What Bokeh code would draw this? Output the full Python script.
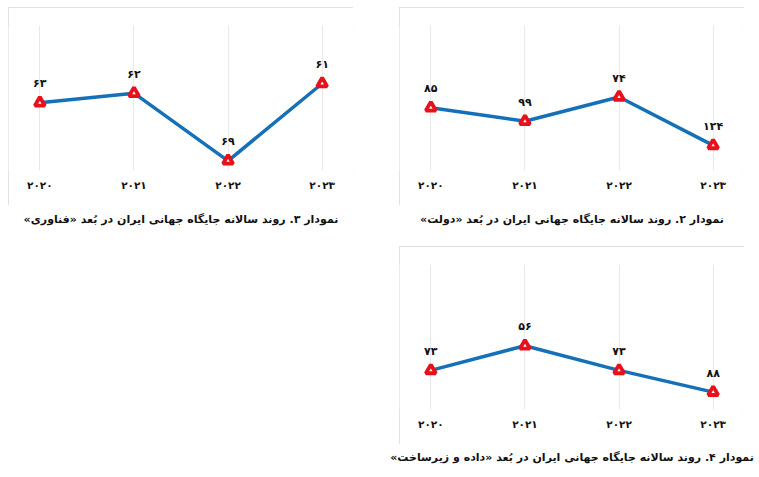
from bokeh.core.properties import value
from bokeh.embed import file_html
from bokeh.layouts import column, row
from bokeh.models import ColumnDataSource, FixedTicker, Range1d, Spacer
from bokeh.plotting import figure
from bokeh.resources import INLINE

years = [2020, 2021, 2022, 2023]
year_labels = ["۲۰۲۰", "۲۰۲۱", "۲۰۲۲", "۲۰۲۳"]

rank_government = [85, 99, 74, 124]
rank_technology = [63, 62, 69, 61]
rank_data_infra = [73, 56, 73, 88]

caption_government = "نمودار ۲. روند سالانه جایگاه جهانی ایران در بُعد «دولت»"
caption_technology = "نمودار ۳. روند سالانه جایگاه جهانی ایران در بُعد «فناوری»"
caption_data_infra = "نمودار ۴. روند سالانه جایگاه جهانی ایران در بُعد «داده و زیرساخت»"

FONT = "DejaVu Sans"
RLM = "\u200f"
PERSIAN_DIGITS = str.maketrans("0123456789", "۰۱۲۳۴۵۶۷۸۹")


def to_persian(number):
    return str(number).translate(PERSIAN_DIGITS)


def rank_chart(ranks, axis_bounds):
    pad = 0.333
    p = figure(width=345, height=198,
               x_range=Range1d(years[0] - pad, years[-1] + pad),
               y_range=Range1d(axis_bounds[1], axis_bounds[0]),
               output_backend="svg", toolbar_location=None,
               y_axis_location=None,
               min_border_left=0, min_border_right=0,
               min_border_top=18, min_border_bottom=35,
               styles={"outline": "1px solid #d9d9d9",
                       "outline-offset": "-1px"})
    p.outline_line_color = None
    p.background_fill_color = "white"
    p.border_fill_color = "white"

    p.xaxis.ticker = FixedTicker(ticks=years)
    p.xaxis.major_label_overrides = dict(zip(years, year_labels))
    p.xaxis.axis_line_color = None
    p.xaxis.major_tick_line_color = None
    p.xaxis.minor_tick_line_color = None
    p.xaxis.major_tick_out = 0
    p.xaxis.minor_tick_out = 0
    p.xaxis.major_label_standoff = 8
    p.xaxis.major_label_text_font = FONT
    p.xaxis.major_label_text_font_style = "bold"
    p.xaxis.major_label_text_font_size = "10.5px"
    p.xaxis.major_label_text_color = "#111111"

    p.xgrid.ticker = FixedTicker(ticks=years)
    p.xgrid.grid_line_color = "#e9e9e9"
    p.ygrid.grid_line_color = None

    source = ColumnDataSource(dict(
        year=years,
        rank=ranks,
        label=[to_persian(r) for r in ranks],
    ))
    p.line("year", "rank", source=source, line_color="#1570b8",
           line_width=3.5)
    p.scatter("year", "rank", source=source, marker="triangle", size=10,
              fill_color="white", line_color="#e8101a", line_width=3.8)
    p.text("year", "rank", text="label", source=source,
           text_font=value(FONT), text_font_style="bold",
           text_font_size="11px", text_color="#111111",
           text_align="center", text_baseline="middle", y_offset=-19)
    return p


def caption(text, width, height):
    p = figure(width=width, height=height, title=RLM + text + RLM,
               output_backend="svg", toolbar_location=None,
               x_axis_location=None, y_axis_location=None,
               min_border=0)
    p.grid.visible = False
    p.outline_line_color = None
    p.title.align = "center"
    p.title.text_font = FONT
    p.title.text_font_style = "bold"
    p.title.text_font_size = "11px"
    p.title.text_color = "#111111"
    return p


chart_technology = rank_chart(rank_technology, (55, 70))
chart_government = rank_chart(rank_government, (0, 150))
chart_data_infra = rank_chart(rank_data_infra, (0, 100))

layout = column(
    row(column(chart_technology, caption(caption_technology, 345, 30)),
        Spacer(width=46),
        column(chart_government, caption(caption_government, 345, 32))),
    Spacer(height=9),
    row(Spacer(width=379),
        column(row(Spacer(width=12), chart_data_infra),
               caption(caption_data_infra, 369, 24))),
    margin=(7, 0, 0, 8),
)

open("out.html", "w").write(file_html(layout, INLINE))
